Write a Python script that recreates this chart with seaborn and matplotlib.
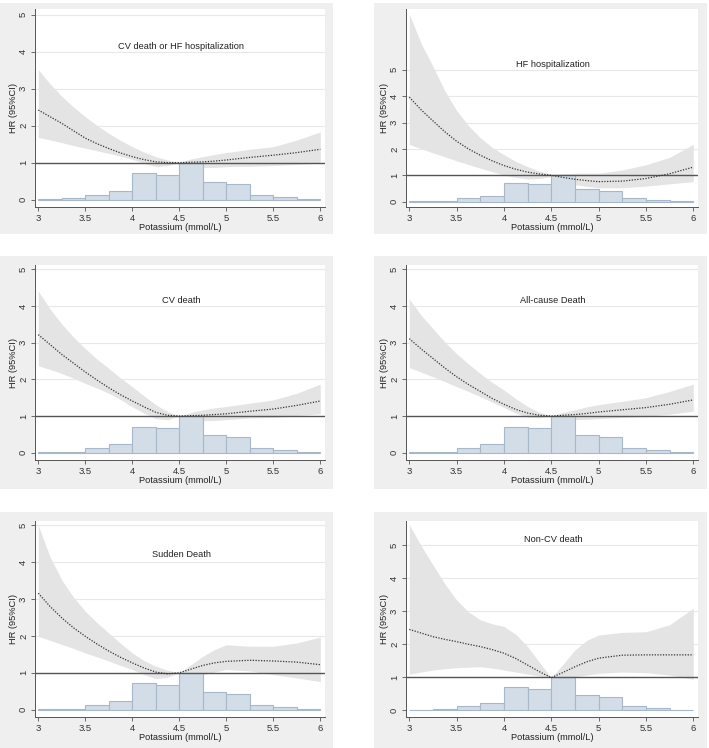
import matplotlib
matplotlib.use("Agg")
import matplotlib.pyplot as plt
from matplotlib.patches import Rectangle
import seaborn as sns

# potassium grid where the curves were read (mmol/L)
k_grid = [3.0, 3.125, 3.25, 3.375, 3.5, 3.625, 3.75, 3.875, 4.0, 4.125, 4.25, 4.375,
          4.5, 4.625, 4.75, 4.875, 5.0, 5.25, 5.5, 5.75, 6.0]

# histogram of potassium (scaled so the tallest bar = 1)
bin_edges = [3.0, 3.25, 3.5, 3.75, 4.0, 4.25, 4.5, 4.75, 5.0, 5.25, 5.5, 5.75, 6.0]
bin_heights = [0.01, 0.03, 0.13, 0.23, 0.71, 0.66, 1.0, 0.48, 0.42, 0.13, 0.08, 0.01]

titles = ["CV death or HF hospitalization", "HF hospitalization", "CV death",
          "All-cause Death", "Sudden Death", "Non-CV death"]

hr_cvhf = [2.42, 2.24, 2.06, 1.86, 1.66, 1.51, 1.38, 1.26, 1.16, 1.08, 1.02, 1.0,
           1.0, 1.01, 1.02, 1.04, 1.07, 1.14, 1.2, 1.27, 1.36]
lo_cvhf = [1.68, 1.61, 1.54, 1.46, 1.39, 1.32, 1.25, 1.17, 1.09, 0.98, 0.89, 0.92,
           1.0, 0.92, 0.87, 0.87, 0.89, 0.9, 0.92, 0.95, 0.99]
hi_cvhf = [3.51, 3.13, 2.79, 2.5, 2.24, 2.0, 1.79, 1.6, 1.43, 1.28, 1.16, 1.07,
           1.0, 1.1, 1.16, 1.22, 1.27, 1.36, 1.43, 1.61, 1.83]

hr_hf = [3.96, 3.48, 3.06, 2.65, 2.29, 2.0, 1.76, 1.55, 1.37, 1.23, 1.12, 1.05,
         1.0, 0.92, 0.85, 0.8, 0.76, 0.78, 0.88, 1.06, 1.31]
lo_hf = [2.17, 2.01, 1.85, 1.7, 1.55, 1.41, 1.27, 1.14, 1.01, 0.92, 0.86, 0.88,
         0.95, 0.78, 0.65, 0.58, 0.53, 0.53, 0.59, 0.68, 0.76]
hi_hf = [7.1, 6.0, 5.12, 4.2, 3.45, 2.88, 2.42, 2.06, 1.78, 1.53, 1.33, 1.16,
         1.04, 1.06, 1.08, 1.08, 1.08, 1.2, 1.4, 1.68, 2.17]

hr_cv = [3.22, 2.95, 2.68, 2.44, 2.2, 1.98, 1.77, 1.58, 1.41, 1.25, 1.1, 1.02,
         1.0, 1.01, 1.02, 1.04, 1.06, 1.13, 1.19, 1.29, 1.41]
lo_cv = [2.37, 2.27, 2.16, 2.03, 1.89, 1.76, 1.62, 1.45, 1.25, 1.08, 0.93, 0.9,
         1.0, 0.9, 0.87, 0.88, 0.9, 0.95, 0.96, 1.01, 1.06]
hi_cv = [4.41, 3.92, 3.51, 3.15, 2.84, 2.55, 2.3, 2.04, 1.8, 1.55, 1.31, 1.12,
         1.0, 1.1, 1.17, 1.22, 1.26, 1.35, 1.44, 1.62, 1.87]

hr_all = [3.11, 2.83, 2.57, 2.31, 2.07, 1.86, 1.67, 1.48, 1.32, 1.18, 1.08, 1.02,
          1.0, 1.02, 1.04, 1.07, 1.11, 1.17, 1.23, 1.32, 1.44]
lo_all = [2.32, 2.2, 2.07, 1.94, 1.8, 1.67, 1.53, 1.38, 1.23, 1.08, 0.97, 0.95,
          1.0, 0.93, 0.9, 0.91, 0.93, 0.96, 0.99, 1.05, 1.13]
hi_all = [4.19, 3.75, 3.38, 3.02, 2.7, 2.42, 2.16, 1.92, 1.71, 1.47, 1.26, 1.1,
          1.0, 1.1, 1.17, 1.25, 1.31, 1.4, 1.5, 1.67, 1.87]

hr_sd = [3.16, 2.8, 2.49, 2.22, 1.99, 1.78, 1.59, 1.42, 1.27, 1.13, 1.02, 0.97,
         1.0, 1.1, 1.2, 1.27, 1.31, 1.34, 1.32, 1.29, 1.22]
lo_sd = [1.99, 1.88, 1.77, 1.66, 1.54, 1.43, 1.32, 1.2, 1.09, 0.95, 0.84, 0.88,
         1.0, 0.98, 0.95, 1.02, 1.09, 1.05, 0.95, 0.86, 0.76]
hi_sd = [5.0, 4.15, 3.52, 3.05, 2.67, 2.36, 2.08, 1.8, 1.54, 1.33, 1.18, 1.07,
         1.0, 1.22, 1.45, 1.63, 1.76, 1.72, 1.72, 1.81, 1.97]

hr_ncv = [2.45, 2.34, 2.23, 2.15, 2.08, 2.0, 1.93, 1.84, 1.73, 1.57, 1.37, 1.17,
          0.99, 1.15, 1.32, 1.47, 1.58, 1.67, 1.68, 1.68, 1.68]
lo_ncv = [1.09, 1.16, 1.22, 1.26, 1.29, 1.31, 1.32, 1.28, 1.22, 1.16, 1.1, 1.04,
          0.99, 1.0, 1.02, 1.07, 1.12, 1.16, 1.14, 1.07, 0.94]
hi_ncv = [5.62, 4.98, 4.4, 3.83, 3.34, 2.98, 2.74, 2.62, 2.54, 2.3, 1.93, 1.45,
          0.99, 1.4, 1.83, 2.12, 2.28, 2.36, 2.38, 2.59, 3.09]

series = [(hr_cvhf, lo_cvhf, hi_cvhf), (hr_hf, lo_hf, hi_hf), (hr_cv, lo_cv, hi_cv),
          (hr_all, lo_all, hi_all), (hr_sd, lo_sd, hi_sd), (hr_ncv, lo_ncv, hi_ncv)]
y_tops = [5.15, 7.3, 5.12, 5.12, 5.12, 5.73]
title_y = [4.13, 5.2, 4.16, 4.14, 4.2, 5.16]

sns.set_theme(style="white")
plt.rcParams['font.family'] = ['Liberation Sans', 'DejaVu Sans']

W, H = 709, 748
fig = plt.figure(figsize=(W / 100, H / 100), dpi=100)
fig.patch.set_facecolor("white")

# panel boxes and plot areas, in pixels
box_cols = [(0, 333), (374, 707)]
box_rows = [(3, 234), (256, 489), (512, 748)]
ax_cols = [(35, 325), (406, 698)]
ax_rows = [(9, 207), (265, 460), (521, 717)]


def add_box(x0, x1, y0, y1):
    fig.patches.append(Rectangle((x0 / W, 1 - y1 / H), (x1 - x0) / W, (y1 - y0) / H,
                                 transform=fig.transFigure, facecolor="#EFEFEF",
                                 edgecolor="none", zorder=-5))


centers = [(a + b) / 2 for a, b in zip(bin_edges[:-1], bin_edges[1:])]

for i, (hr, lo, hi) in enumerate(series):
    r, c = divmod(i, 2)
    add_box(*box_cols[c], *box_rows[r])
    ax0, ax1 = ax_cols[c]
    ay0, ay1 = ax_rows[r]
    ax = fig.add_axes([ax0 / W, 1 - ay1 / H, (ax1 - ax0) / W, (ay1 - ay0) / H])
    ax.set_zorder(2)
    ax.set_facecolor("white")

    for gy in range(1, 6):
        ax.axhline(gy, color="#E8E8E8", linewidth=0.8, zorder=0)

    # IC 95% come banda grigia, poi istogramma, poi riferimento e curva HR
    ax.fill_between(k_grid, lo, hi, color="#E4E4E4", linewidth=0, zorder=1)
    sns.histplot(x=centers, weights=bin_heights, bins=bin_edges, ax=ax,
                 color="#D3DDE7", edgecolor="#A7B8CA", linewidth=0.8, alpha=1, zorder=2)
    ax.axhline(1, color="#555555", linewidth=1.0, zorder=3)
    sns.lineplot(x=k_grid, y=hr, ax=ax, color="#333333", linestyle=(0, (1, 1.2)),
                 linewidth=0.9, zorder=4)

    ax.text(4.52, title_y[i], titles[i], ha="center", va="center", fontsize=6.7, color="#222222")

    ax.set_xlim(2.965, 6.05)
    ax.set_ylim(-0.2, y_tops[i])
    ax.set_xticks([3, 3.5, 4, 4.5, 5, 5.5, 6])
    ax.set_xticklabels(["3", "3.5", "4", "4.5", "5", "5.5", "6"])
    ax.set_yticks([0, 1, 2, 3, 4, 5])
    ax.set_yticklabels(["0", "1", "2", "3", "4", "5"], rotation=90, va="center")
    ax.tick_params(axis="both", labelsize=6.8, length=3, width=0.6, direction="out",
                   color="#555555", labelcolor="#333333", pad=2)
    ax.tick_params(axis="x", bottom=True)
    ax.tick_params(axis="y", left=True)
    for side in ["top", "right"]:
        ax.spines[side].set_visible(False)
    for side in ["left", "bottom"]:
        ax.spines[side].set_color("#555555")
        ax.spines[side].set_linewidth(0.7)
    ax.set_xlabel("Potassium (mmol/L)", fontsize=6.7, color="#222222", labelpad=0)
    ax.set_ylabel("HR (95%CI)", fontsize=6.7, color="#222222", labelpad=1)

fig.savefig("out.png", dpi=100)
